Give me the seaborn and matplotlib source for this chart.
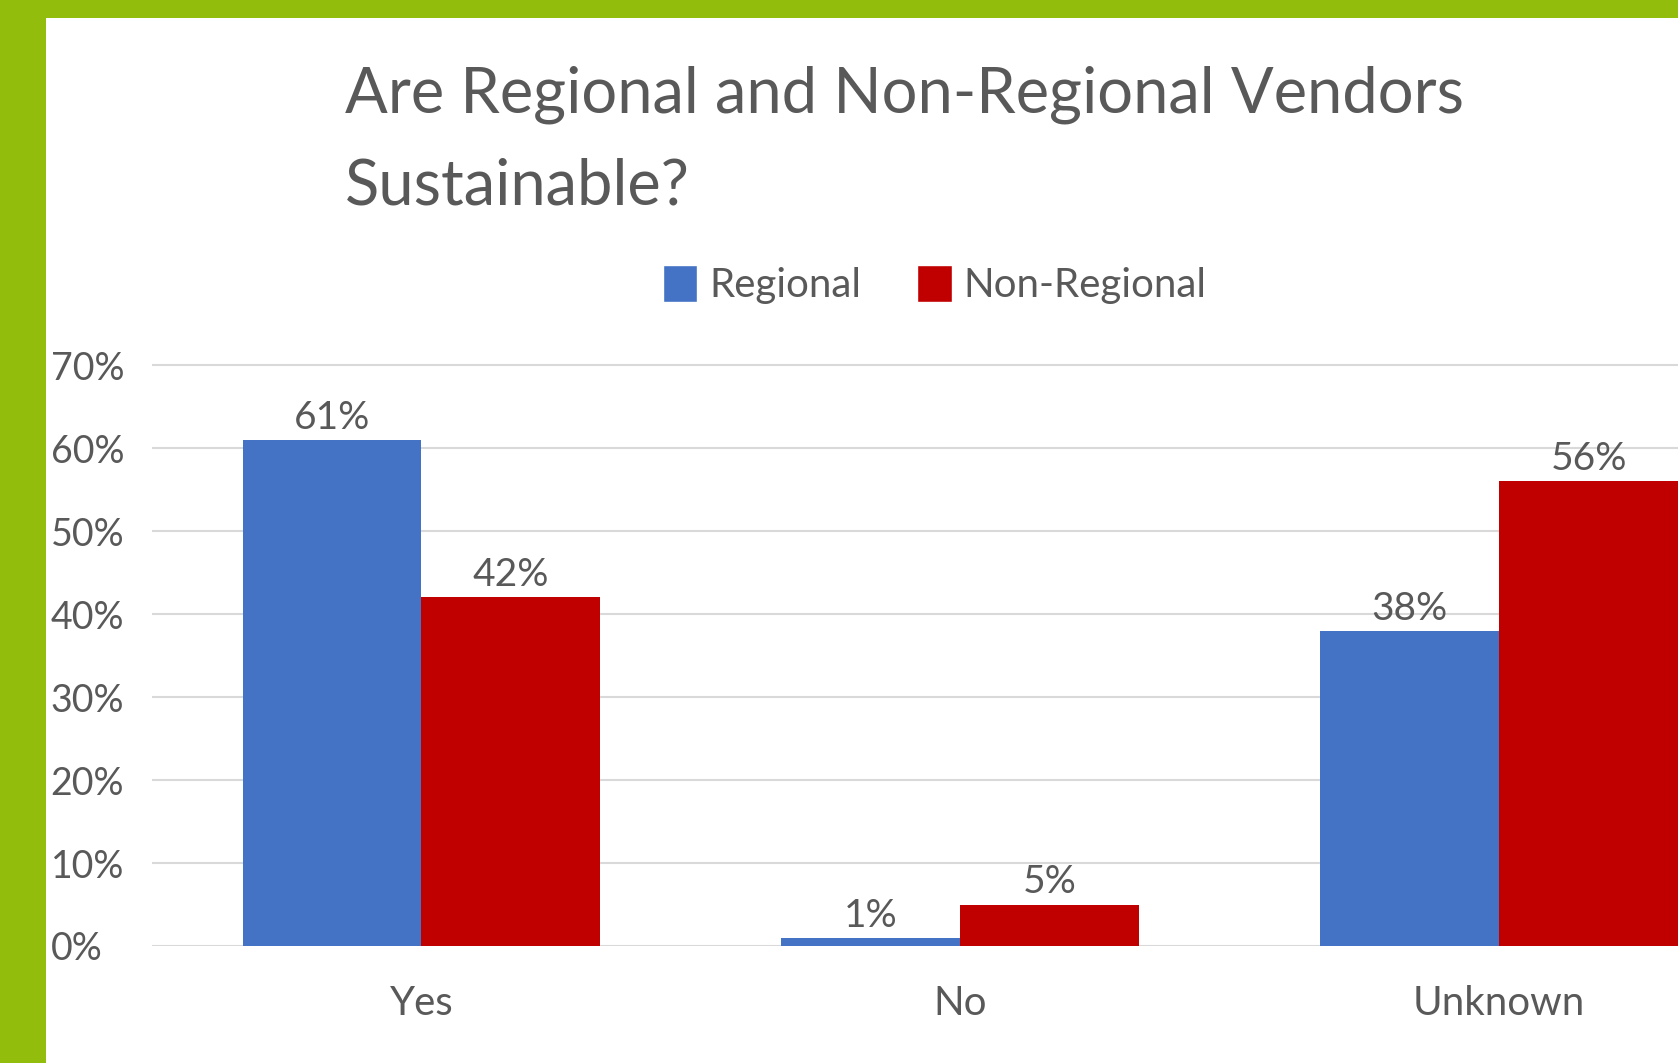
import pandas as pd
import seaborn as sns
import matplotlib.pyplot as plt
from matplotlib.patches import Rectangle, Patch

# values
categories = ["Yes", "No", "Unknown"]
series = ["Regional", "Non-Regional"]
regional = [0.61, 0.01, 0.38]
non_regional = [0.42, 0.05, 0.56]
y_ticks = [0.0, 0.1, 0.2, 0.3, 0.4, 0.5, 0.6, 0.7]
y_tick_labels = ["0%", "10%", "20%", "30%", "40%", "50%", "60%", "70%"]
colors = ["#4472C4", "#C00000"]

sns.set_theme(style="white")
plt.rcParams["font.family"] = ["Lato", "DejaVu Sans"]
text_color = "#595959"

df = pd.DataFrame({
    "answer": categories * 2,
    "vendor": [series[0]] * 3 + [series[1]] * 3,
    "share": regional + non_regional,
})

fig = plt.figure(figsize=(16.78, 10.63), dpi=100, facecolor="#93bd0c")
# white slide panel over the green background
fig.add_artist(Rectangle((46 / 1678, 0), 1, (1063 - 18) / 1063,
                         transform=fig.transFigure, facecolor="white",
                         edgecolor="none", zorder=-1))

ax = fig.add_axes([152 / 1678, 117 / 1063, 1 - 152 / 1678, 585 / 1063])
sns.barplot(data=df, x="answer", y="share", hue="vendor", palette=colors,
            width=0.664, saturation=1, linewidth=0, legend=False, ax=ax)

for cont in ax.containers:
    ax.bar_label(cont, labels=[f"{v:.0%}" for v in cont.datavalues],
                 padding=3, fontsize=28, color=text_color)

ax.set_xlim(-0.5, 2.332)
ax.set_ylim(0, 0.705)
ax.set_yticks(y_ticks)
ax.set_yticklabels(y_tick_labels, ha="left")
ax.tick_params(axis="y", length=0, pad=73, labelsize=27, labelcolor=text_color)
ax.tick_params(axis="x", length=0, pad=28, labelsize=29, labelcolor=text_color)
ax.grid(axis="y", color="#d9d9d9", linewidth=1.5)
ax.set_axisbelow(True)
for s in ax.spines.values():
    s.set_visible(False)
ax.set_xlabel("")
ax.set_ylabel("")
ax.set_facecolor("white")

fig.text(345 / 1678, 1 - 65 / 1063,
         "Are Regional and Non-Regional Vendors\nSustainable?",
         ha="left", va="top", fontsize=45.5, color=text_color, linespacing=1.72)

handles = [Patch(facecolor=c, label=s) for c, s in zip(colors, series)]
fig.legend(handles=handles, loc="center", bbox_to_anchor=(0.557, 0.732),
           ncol=2, frameon=False, fontsize=29, handlelength=0.85,
           handleheight=1.0, handletextpad=0.3, columnspacing=1.4,
           labelcolor=text_color)

fig.savefig("out.png", dpi=100, facecolor=fig.get_facecolor())
